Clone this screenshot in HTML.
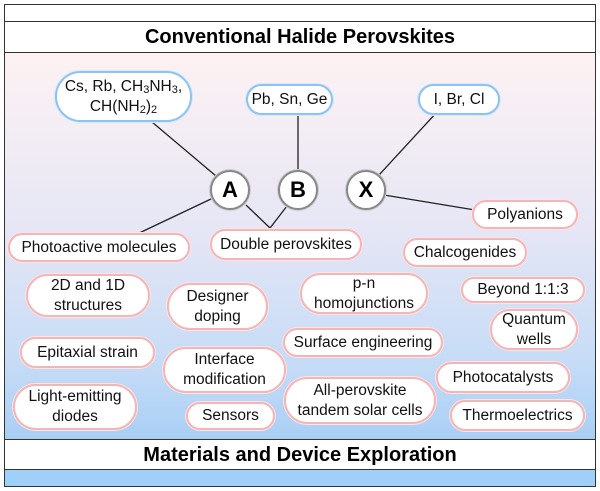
<!DOCTYPE html>
<html><head><meta charset="utf-8"><style>
*{margin:0;padding:0;box-sizing:border-box}
body{width:600px;height:491px;background:#fff;position:relative;overflow:hidden;font-family:"Liberation Sans",Arial,sans-serif}
#frame{position:absolute;left:4px;top:4px;width:592px;height:483px;border:1.5px solid #333;overflow:hidden}
.band{position:absolute;left:0;right:0;background:#fff;text-align:center;font-weight:bold;font-size:20px;color:#000}
#grad{position:absolute;left:0;right:0;top:48px;height:386px;background:linear-gradient(#fdf2f3 0%,#e6e6f5 45%,#c6dcf6 80%,#a9cff5 100%)}
.p{position:absolute;display:flex;align-items:center;justify-content:center;text-align:center;background:#fff;border:2px solid #f2b5b8;box-shadow:0 0 0 1px #fde3e4;border-radius:999px;font-size:15.5px;line-height:20px;color:#111}
.b{border-color:#8ec3ef;box-shadow:0 0 0 1px #d6eafb}
.c{position:absolute;width:40px;height:40px;border-radius:50%;background:#fff;border:2.5px solid #888;box-shadow:0 0 0 1px #ccc;display:flex;align-items:center;justify-content:center;font-weight:bold;font-size:22px}
sub{font-size:11px;vertical-align:-2px;line-height:0}
</style></head><body>
<div id="frame">
<div class="band" style="top:0;height:17px;border-bottom:1.5px solid #333"></div>
<div class="band" style="top:17px;height:31px;line-height:31px;border-bottom:1.5px solid #333">Conventional Halide Perovskites</div>
<div id="grad"></div>
<div class="band" style="top:434px;height:31px;line-height:31px;border-top:1.5px solid #333;border-bottom:1.5px solid #333">Materials and Device Exploration</div>
<div style="position:absolute;left:0;right:0;top:465px;height:20px;background:#9fd0f7"></div>
</div>
<svg style="position:absolute;left:0;top:0" width="600" height="491">
<g stroke="#222" stroke-width="1.3" fill="none">
<line x1="152" y1="122" x2="216" y2="176"/>
<line x1="298" y1="112" x2="298" y2="172"/>
<line x1="437" y1="112" x2="379" y2="175"/>
<line x1="211" y1="199" x2="135" y2="235"/>
<polyline points="246,205 270,228 287,206"/>
<line x1="384" y1="195" x2="475" y2="210"/>
</g></svg>
<div class="p b" style="left:55px;top:71px;width:137px;height:51px"><span>Cs, Rb, CH<sub>3</sub>NH<sub>3</sub>,<br>CH(NH<sub>2</sub>)<sub>2</sub></span></div>
<div class="p b" style="left:246px;top:84px;width:87px;height:31px"><span>Pb, Sn, Ge</span></div>
<div class="p b" style="left:418px;top:84px;width:82px;height:31px"><span>I, Br, Cl</span></div>
<div class="c" style="left:210px;top:170px">A</div>
<div class="c" style="left:278px;top:170px">B</div>
<div class="c" style="left:346px;top:170px">X</div>
<div class="p" style="left:8px;top:233px;width:182px;height:29px"><span>Photoactive molecules</span></div>
<div class="p" style="left:210px;top:229px;width:152px;height:31px"><span>Double perovskites</span></div>
<div class="p" style="left:472px;top:200px;width:106px;height:29px"><span>Polyanions</span></div>
<div class="p" style="left:403px;top:238px;width:124px;height:29px"><span>Chalcogenides</span></div>
<div class="p" style="left:26px;top:274px;width:124px;height:43px"><span>2D and 1D<br>structures</span></div>
<div class="p" style="left:167px;top:283px;width:101px;height:47px"><span>Designer<br>doping</span></div>
<div class="p" style="left:300px;top:273px;width:128px;height:41px"><span>p-n<br>homojunctions</span></div>
<div class="p" style="left:461px;top:277px;width:124px;height:26px"><span>Beyond 1:1:3</span></div>
<div class="p" style="left:490px;top:309px;width:88px;height:41px"><span>Quantum<br>wells</span></div>
<div class="p" style="left:20px;top:337px;width:135px;height:31px"><span>Epitaxial strain</span></div>
<div class="p" style="left:283px;top:328px;width:160px;height:29px"><span>Surface engineering</span></div>
<div class="p" style="left:163px;top:347px;width:123px;height:46px"><span>Interface<br>modification</span></div>
<div class="p" style="left:436px;top:362px;width:134px;height:31px"><span>Photocatalysts</span></div>
<div class="p" style="left:13px;top:384px;width:124px;height:46px"><span>Light-emitting<br>diodes</span></div>
<div class="p" style="left:186px;top:402px;width:89px;height:28px"><span>Sensors</span></div>
<div class="p" style="left:284px;top:377px;width:152px;height:47px"><span>All-perovskite<br>tandem solar cells</span></div>
<div class="p" style="left:450px;top:400px;width:135px;height:31px"><span>Thermoelectrics</span></div>
</body></html>
